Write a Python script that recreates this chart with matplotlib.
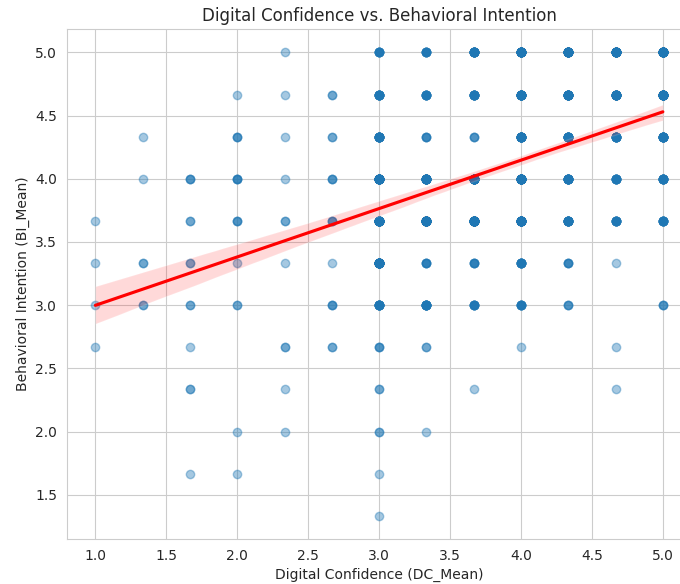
import numpy as np
import pandas as pd
import matplotlib
matplotlib.use("Agg")
import matplotlib.pyplot as plt
import seaborn as sns

# Likert-style means come in thirds; each column below is one DC_Mean level,
# with (BI_Mean, count) pairs read off the scatter darkness.
dc_levels = [1.0, 4/3, 5/3, 2.0, 7/3, 8/3, 3.0, 10/3, 11/3, 4.0, 13/3, 14/3, 5.0]
bi_counts = [
    {11/3: 1, 10/3: 1, 3.0: 1, 8/3: 1},
    {13/3: 1, 4.0: 1, 10/3: 2, 3.0: 2},
    {4.0: 3, 11/3: 2, 10/3: 2, 3.0: 2, 8/3: 1, 7/3: 2, 5/3: 1},
    {14/3: 1, 13/3: 3, 4.0: 4, 11/3: 3, 10/3: 1, 3.0: 2, 2.0: 1, 5/3: 1},
    {5.0: 1, 14/3: 1, 13/3: 1, 4.0: 1, 11/3: 2, 10/3: 1, 8/3: 2, 7/3: 1, 2.0: 1},
    {14/3: 2, 13/3: 2, 4.0: 3, 11/3: 3, 10/3: 1, 3.0: 3, 8/3: 2},
    {5.0: 8, 14/3: 14, 13/3: 17, 4.0: 31, 11/3: 39, 10/3: 34, 3.0: 14, 8/3: 3,
     7/3: 2, 2.0: 2, 5/3: 1, 4/3: 1},
    {5.0: 8, 14/3: 10, 13/3: 4, 4.0: 25, 11/3: 43, 10/3: 5, 3.0: 14, 8/3: 2, 2.0: 1},
    {5.0: 18, 14/3: 14, 13/3: 3, 4.0: 28, 11/3: 44, 10/3: 5, 3.0: 8, 7/3: 1},
    {5.0: 27, 14/3: 23, 13/3: 22, 4.0: 31, 11/3: 30, 10/3: 11, 3.0: 8, 8/3: 1},
    {5.0: 27, 14/3: 23, 13/3: 18, 4.0: 18, 11/3: 18, 10/3: 4, 3.0: 3},
    {5.0: 28, 14/3: 22, 13/3: 14, 4.0: 11, 11/3: 11, 10/3: 1, 8/3: 1, 7/3: 1},
    {5.0: 38, 14/3: 34, 13/3: 18, 4.0: 14, 11/3: 11, 3.0: 3},
]

dc, bi = [], []
for x, col in zip(dc_levels, bi_counts):
    for y, n in col.items():
        dc += [x] * n
        bi += [y] * n
df = pd.DataFrame({"DC_Mean": dc, "BI_Mean": bi})

sns.set_style("whitegrid")
fig = plt.figure(figsize=(6.8, 5.84), dpi=100)
ax = fig.add_axes([0.0985, 0.077, 0.918, 0.873])
sns.regplot(data=df, x="DC_Mean", y="BI_Mean", ax=ax, seed=0,
            scatter_kws={"alpha": 0.4}, line_kws={"color": "red"})
ax.set_title("Digital Confidence vs. Behavioral Intention", fontsize=12)
ax.set_xlabel("Digital Confidence (DC_Mean)")
ax.set_ylabel("Behavioral Intention (BI_Mean)")
fig.savefig("out.png", dpi=100)
